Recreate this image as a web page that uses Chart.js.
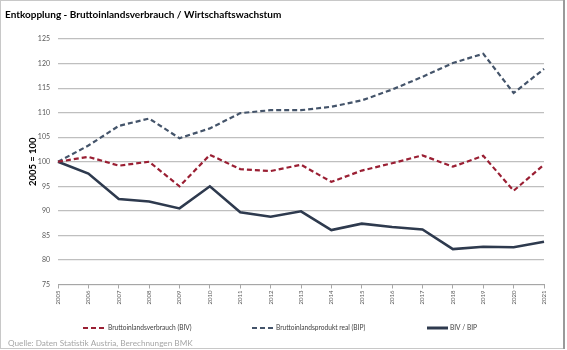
<!DOCTYPE html>
<html>
<head>
<meta charset="utf-8">
<script src="https://cdn.jsdelivr.net/npm/chart.js@4.4.1/dist/chart.umd.min.js"></script>
<style>
  html, body { margin: 0; padding: 0; background: #fff; }
  #wrap { width: 567px; height: 350px; }
</style>
</head>
<body>
<div id="wrap"><canvas id="chart" width="567" height="350"></canvas></div>
<script>
// Jahre (x-Achse)
const years = ['2005', '2006', '2007', '2008', '2009', '2010', '2011', '2012', '2013',
               '2014', '2015', '2016', '2017', '2018', '2019', '2020', '2021'];

// Index 2005 = 100
const bivValues = [100, 101.0, 99.2, 100.0, 95.0, 101.4, 98.5, 98.1, 99.4,
                   95.9, 98.2, 99.7, 101.3, 99.0, 101.2, 94.1, 99.4];
const bipValues = [100, 103.3, 107.3, 108.8, 104.8, 106.8, 109.9, 110.5, 110.5,
                   111.2, 112.5, 114.7, 117.3, 120.1, 122.0, 114.0, 118.9];
const ratioValues = [100, 97.6, 92.4, 91.9, 90.5, 95.0, 89.7, 88.8, 89.9,
                     86.1, 87.4, 86.7, 86.2, 82.2, 82.7, 82.6, 83.7];

const seriesNames = ['Bruttoinlandsverbrauch (BIV)', 'Bruttoinlandsprodukt real (BIP)', 'BIV / BIP'];
const yTicks = [75, 80, 85, 90, 95, 100, 105, 110, 115, 120, 125];

const titleText = 'Entkopplung - Bruttoinlandsverbrauch / Wirtschaftswachstum';
const sourceText = 'Quelle: Daten Statistik Austria, Berechnungen BMK';

const RED = '#9a1f33';
const BLUE = '#44546a';
const DARK = '#2e3a4e';
const FONT = 'Lato, "Open Sans", sans-serif';

// Titel, Quelle, Legende und Rahmen
const decorations = {
    id: 'decorations',
    afterDraw(chart) {
        const ctx = chart.ctx;
        ctx.save();

        // Rahmen
        ctx.strokeStyle = '#c8c8c8';
        ctx.lineWidth = 1;
        ctx.strokeRect(0.5, 0.5, 564, 348);
        ctx.strokeStyle = '#9a9a9a';
        ctx.lineWidth = 2;
        ctx.beginPath();
        ctx.moveTo(564, 0);
        ctx.lineTo(564, 349);
        ctx.stroke();

        // Titel
        ctx.fillStyle = '#000';
        ctx.font = 'bold 10px ' + FONT;
        ctx.textBaseline = 'middle';
        ctx.textAlign = 'left';
        ctx.fillText(titleText, 5, 15);

        // Quelle
        ctx.fillStyle = '#a6a6a6';
        ctx.font = '8.2px ' + FONT;
        ctx.fillText(sourceText, 8, 343);

        // Legende
        const items = [
            { x: 83, color: RED, dash: [5, 3], width: 2, textX: 108 },
            { x: 252, color: BLUE, dash: [5, 3], width: 2, textX: 276 },
            { x: 427, color: DARK, dash: [], width: 3, textX: 450 }
        ];
        items.forEach((it, i) => {
            ctx.strokeStyle = it.color;
            ctx.lineWidth = it.width;
            ctx.setLineDash(it.dash);
            ctx.beginPath();
            ctx.moveTo(it.x, 328);
            ctx.lineTo(it.x + 21, 328);
            ctx.stroke();
            ctx.setLineDash([]);
            ctx.fillStyle = '#404040';
            ctx.font = '6.6px ' + FONT;
            ctx.fillText(seriesNames[i], it.textX, 328);
        });

        ctx.restore();
    }
};

new Chart(document.getElementById('chart'), {
    type: 'line',
    data: {
        labels: years,
        datasets: [
            {
                label: seriesNames[0],
                data: bivValues,
                borderColor: RED,
                borderWidth: 2.2,
                borderDash: [5, 3],
                pointRadius: 0,
                tension: 0
            },
            {
                label: seriesNames[1],
                data: bipValues,
                borderColor: BLUE,
                borderWidth: 2.2,
                borderDash: [5, 3],
                pointRadius: 0,
                tension: 0
            },
            {
                label: seriesNames[2],
                data: ratioValues,
                borderColor: DARK,
                borderWidth: 2.6,
                pointRadius: 0,
                tension: 0
            }
        ]
    },
    options: {
        responsive: false,
        devicePixelRatio: 1,
        animation: false,
        layout: { padding: { top: 39, right: 23, left: 0, bottom: 0 } },
        scales: {
            x: {
                offset: false,
                grid: { drawOnChartArea: false, drawTicks: true, tickLength: 4, color: '#a6a6a6' },
                border: { display: true, color: '#a6a6a6', width: 1 },
                ticks: {
                    minRotation: 90, maxRotation: 90, autoSkip: false,
                    padding: 2, color: '#595959',
                    font: { family: FONT, size: 6 }
                },
                afterFit: scale => { scale.height = 65.5; }
            },
            y: {
                min: 75,
                max: 125,
                afterBuildTicks: scale => { scale.ticks = yTicks.map(v => ({ value: v })); },
                grid: { color: '#bfbfbf', lineWidth: 1.2, drawTicks: false },
                border: { display: false },
                ticks: {
                    padding: 8, color: '#595959',
                    font: { family: FONT, size: 7 }
                },
                title: {
                    display: true,
                    text: '2005 = 100',
                    color: '#000',
                    font: { family: FONT, size: 9.5, weight: 'bold' },
                    padding: { top: 27, bottom: 0 }
                },
                afterFit: scale => { scale.width = 58; }
            }
        },
        plugins: {
            legend: { display: false },
            title: { display: false },
            tooltip: { enabled: false }
        }
    },
    plugins: [decorations]
});
</script>
</body>
</html>
